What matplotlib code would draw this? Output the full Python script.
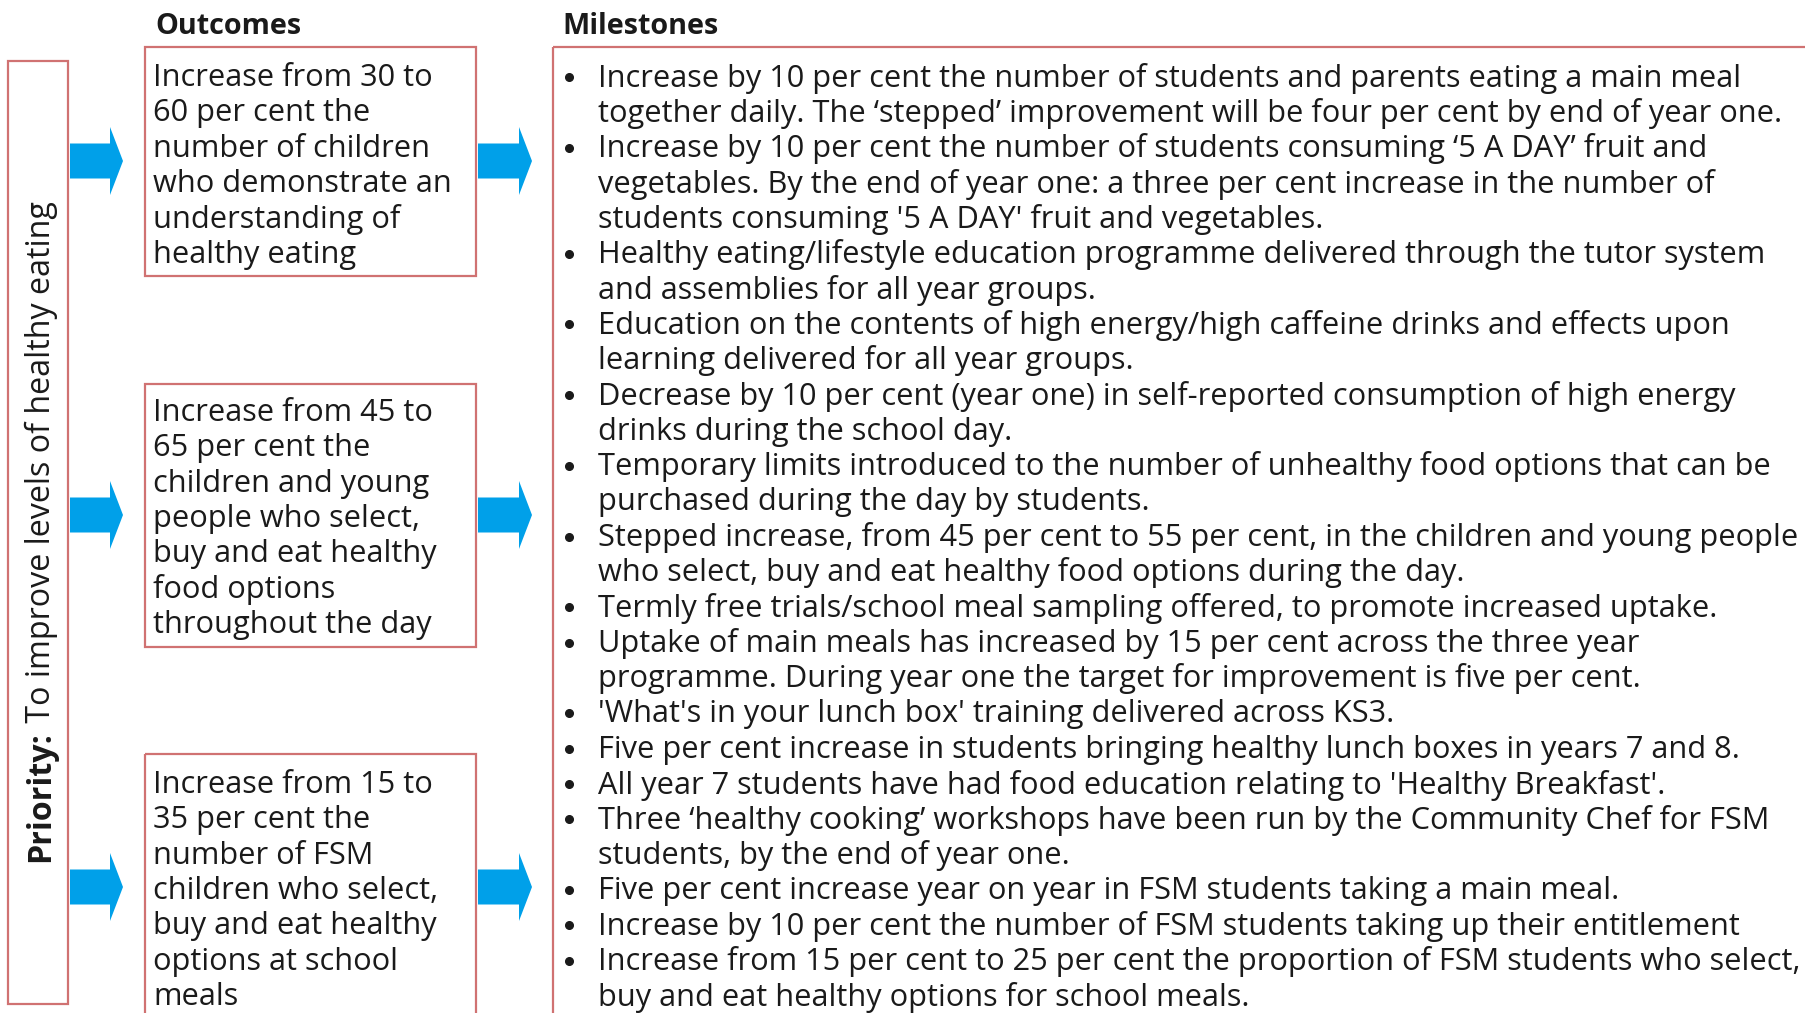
import matplotlib
matplotlib.use("Agg")
import matplotlib.pyplot as plt
from matplotlib.patches import Rectangle, Polygon

# ---------------- content ----------------
headers = ["Outcomes", "Milestones"]
priority_bold = "Priority:"
priority_rest = " To improve levels of healthy eating"

outcomes = [
    ["Increase from 30 to", "60 per cent the", "number of children",
     "who demonstrate an", "understanding of", "healthy eating"],
    ["Increase from 45 to", "65 per cent the", "children and young",
     "people who select,", "buy and eat healthy", "food options",
     "throughout the day"],
    ["Increase from 15 to", "35 per cent the", "number of FSM",
     "children who select,", "buy and eat healthy", "options at school",
     "meals"],
]

milestones = [
    ["Increase by 10 per cent the number of students and parents eating a main meal",
     "together daily. The \u2018stepped\u2019 improvement will be four per cent by end of year one."],
    ["Increase by 10 per cent the number of students consuming \u20185 A DAY\u2019 fruit and",
     "vegetables. By the end of year one: a three per cent increase in the number of",
     "students consuming '5 A DAY' fruit and vegetables."],
    ["Healthy eating/lifestyle education programme delivered through the tutor system",
     "and assemblies for all year groups."],
    ["Education on the contents of high energy/high caffeine drinks and effects upon",
     "learning delivered for all year groups."],
    ["Decrease by 10 per cent (year one) in self-reported consumption of high energy",
     "drinks during the school day."],
    ["Temporary limits introduced to the number of unhealthy food options that can be",
     "purchased during the day by students."],
    ["Stepped increase, from 45 per cent to 55 per cent, in the children and young people",
     "who select, buy and eat healthy food options during the day."],
    ["Termly free trials/school meal sampling offered, to promote increased uptake."],
    ["Uptake of main meals has increased by 15 per cent across the three year",
     "programme. During year one the target for improvement is five per cent."],
    ["'What's in your lunch box' training delivered across KS3."],
    ["Five per cent increase in students bringing healthy lunch boxes in years 7 and 8."],
    ["All year 7 students have had food education relating to 'Healthy Breakfast'."],
    ["Three \u2018healthy cooking\u2019 workshops have been run by the Community Chef for FSM",
     "students, by the end of year one."],
    ["Five per cent increase year on year in FSM students taking a main meal."],
    ["Increase by 10 per cent the number of FSM students taking up their entitlement"],
    ["Increase from 15 per cent to 25 per cent the proportion of FSM students who select,",
     "buy and eat healthy options for school meals."],
]

# ---------------- style / layout ----------------
FONT = "Open Sans"
TXT = "#1a1a1a"
EDGE = "#D07272"
BLUE = "#00A0E9"
W, H = 1806, 1013
LINE = 35.35

fig = plt.figure(figsize=(18.06, 10.13), dpi=100)
ax = fig.add_axes([0, 0, 1, 1])
ax.set_xlim(0, W)
ax.set_ylim(H, 0)
ax.axis("off")
renderer = fig.canvas.get_renderer()


def fit_size(s, target_px, weight="normal"):
    t = ax.text(0, 0, s, fontsize=20, family=FONT, weight=weight)
    w = t.get_window_extent(renderer).width
    t.remove()
    return 20 * target_px / w


BODY = fit_size(milestones[0][0], 1141)
HEAD = fit_size(headers[0], 146, "bold")
PRI = fit_size(priority_bold + priority_rest, 648)

# headers
ax.text(155, 26, headers[0], fontsize=HEAD, family=FONT, weight="bold",
        color=TXT, ha="left", va="center")
ax.text(562, 26, headers[1], fontsize=HEAD, family=FONT, weight="bold",
        color=TXT, ha="left", va="center")

# priority box
ax.add_patch(Rectangle((8, 61), 60, 943, fill=False, ec=EDGE, lw=1.6))
t1 = ax.text(41, 862, priority_bold, rotation=90, fontsize=PRI, family=FONT,
             weight="bold", color=TXT, ha="center", va="bottom")
ax.annotate(priority_rest, xy=(0.5, 1), xycoords=t1, rotation=90,
            fontsize=PRI, family=FONT, color=TXT, ha="center", va="bottom")

# outcome boxes
box_tops = [47, 384, 754]
box_bottoms = [276, 647, 1030]
first_lines = [78, 413, 785]
centers = [161, 515, 887]
for lines, top, bot, y0 in zip(outcomes, box_tops, box_bottoms, first_lines):
    ax.add_patch(Rectangle((145, top), 331, bot - top, fill=False, ec=EDGE, lw=1.6))
    for i, s in enumerate(lines):
        ax.text(153, y0 + i * LINE, s, fontsize=BODY, family=FONT, color=TXT,
                ha="left", va="center")


def arrow(x0, xh, xt, yc):
    sh, hh = 17.5, 34
    pts = [(x0, yc - sh), (xh, yc - sh), (xh, yc - hh), (xt, yc),
           (xh, yc + hh), (xh, yc + sh), (x0, yc + sh)]
    ax.add_patch(Polygon(pts, closed=True, fc=BLUE, ec="none"))


for yc in centers:
    arrow(70, 110, 123, yc)
    arrow(478, 519, 532, yc)

# milestones box
ax.add_patch(Rectangle((553, 47), 1300, 1000, fill=False, ec=EDGE, lw=1.6))
row = 0
for item in milestones:
    for j, s in enumerate(item):
        y = 78 + row * LINE
        if j == 0:
            ax.plot([569], [y - 1], "o", ms=5.5, color=TXT)
        ax.text(598, y, s, fontsize=BODY, family=FONT, color=TXT,
                ha="left", va="center")
        row += 1

fig.savefig("out.png", dpi=100)
